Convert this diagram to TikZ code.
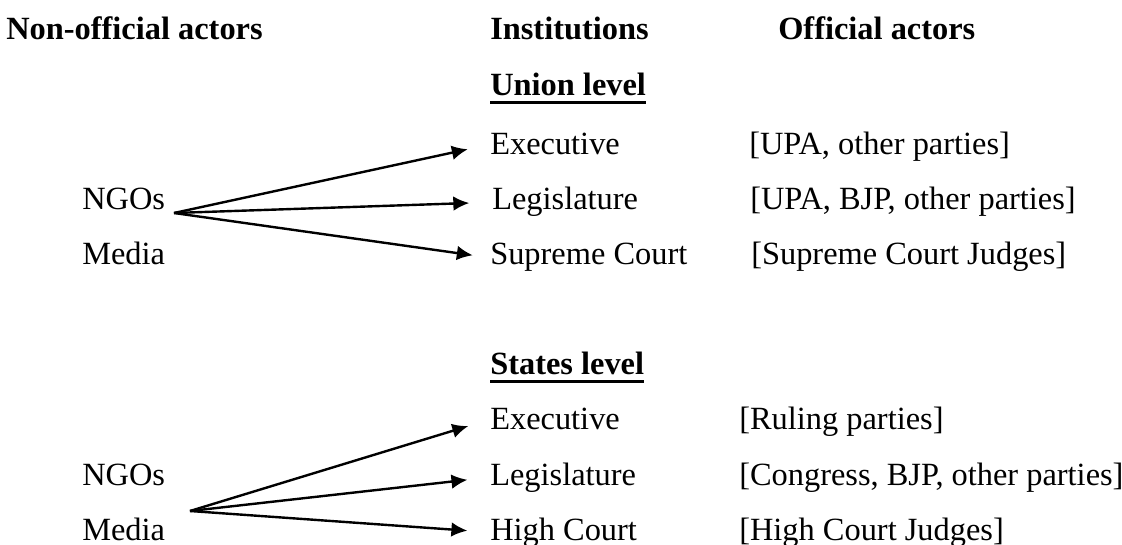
\documentclass[tikz,border=0pt]{standalone}
\usepackage{fontspec}
\setmainfont{Liberation Serif}
\usetikzlibrary{arrows.meta}

\tikzset{
  lbl/.style={anchor=base west,inner sep=0pt,font=\fontsize{24.3}{29}\selectfont},
  hdr/.style={lbl,font=\fontsize{24.3}{29}\selectfont\bfseries},
  link/.style={line width=1.8pt,-{Latex[length=12pt,width=11pt]},shorten >=17pt},
  uline/.style={line width=2.4pt}
}

\begin{document}
\begin{tikzpicture}[x=0.75pt,y=-0.75pt]
\useasboundingbox (0,0) rectangle (1122,545);

% column heads
\node[hdr] (nonoff) at (6,40) {Non-official actors};
\node[hdr] (inst) at (490,40) {Institutions};
\node[hdr] (off) at (778,40) {Official actors};

% union level
\node[hdr] (union) at (490,96) {Union level};
\draw[uline] ([yshift=-5pt]union.base west) -- ([yshift=-5pt]union.base east);

\node[lbl] (ungo) at (82,210) {NGOs};
\node[lbl] (umedia) at (82,265) {Media};
\coordinate (uorig) at (174,213);

\node[lbl] (uexec) at (490,155) {Executive};
\node[lbl] (uleg) at (492,210) {Legislature};
\node[lbl] (usc) at (490,265) {Supreme Court};

\node[lbl] (uexecof) at (749,155) {[UPA, other parties]};
\node[lbl] (ulegof) at (750,210) {[UPA, BJP, other parties]};
\node[lbl] (uscof) at (751,265) {[Supreme Court Judges]};

\draw[link] (uorig) -- (uexec.west);
\draw[link] (uorig) -- (uleg.west);
\draw[link,shorten >=13pt] (uorig) -- (usc.west);

% states level
\node[hdr] (states) at (490,375) {States level};
\draw[uline] ([yshift=-5pt]states.base west) -- ([yshift=-5pt]states.base east);

\node[lbl] (sngo) at (82,485) {NGOs};
\node[lbl] (smedia) at (82,540) {Media};
\coordinate (sorig) at (190,511);

\node[lbl] (sexec) at (490,430) {Executive};
\node[lbl] (sleg) at (490,485) {Legislature};
\node[lbl] (shc) at (490,540) {High Court};

\node[lbl] (sexecof) at (739,430) {[Ruling parties]};
\node[lbl] (slegof) at (739,485) {[Congress, BJP, other parties]};
\node[lbl] (shcof) at (739,540) {[High Court Judges]};

\draw[link] (sorig) -- (sexec.west);
\draw[link] (sorig) -- (sleg.west);
\draw[link] (sorig) -- (shc.west);
\end{tikzpicture}
\end{document}
